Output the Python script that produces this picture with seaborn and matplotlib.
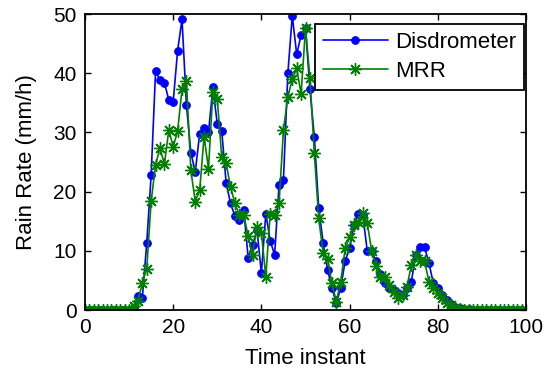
import matplotlib
matplotlib.use("Agg")
import matplotlib.pyplot as plt
import seaborn as sns

time_instant = list(range(0, 101))

disdrometer = [
    0.0, 0.0, 0.0, 0.0, 0.0, 0.0, 0.0, 0.0, 0.0, 0.0,
    0.0, 0.3, 2.4, 2.0, 11.3, 22.8, 40.3, 38.9, 38.4, 35.5,
    35.2, 43.8, 49.1, 34.6, 26.6, 23.3, 29.8, 30.8, 30.0, 37.6,
    31.4, 30.3, 21.5, 18.0, 15.9, 15.2, 16.9, 8.8, 11.0, 13.5,
    6.2, 16.3, 11.7, 9.3, 21.1, 22.0, 40.0, 49.7, 43.2, 46.4,
    47.7, 37.3, 29.3, 17.2, 11.4, 6.8, 3.7, 1.1, 3.8, 8.3,
    10.4, 14.4, 16.2, 16.0, 10.0, 10.0, 8.2, 6.0, 4.5, 3.8,
    3.4, 2.8, 2.5, 3.7, 4.8, 9.3, 10.6, 10.6, 7.9, 4.5,
    3.7, 2.5, 1.7, 1.0, 0.5, 0.3, 0.1, 0.1, 0.0, 0.0,
    0.0, 0.0, 0.0, 0.0, 0.0, 0.0, 0.0, 0.0, 0.0, 0.0,
    0.0,
]

mrr = [
    0.0, 0.0, 0.0, 0.0, 0.0, 0.0, 0.0, 0.0, 0.0, 0.0,
    0.0, 0.6, 1.5, 4.6, 7.0, 18.4, 24.5, 27.4, 24.6, 30.4,
    27.6, 30.2, 37.3, 38.6, 23.6, 18.3, 20.2, 29.3, 23.9, 36.9,
    35.6, 25.9, 24.8, 20.8, 18.0, 16.0, 16.0, 12.5, 9.3, 14.1,
    13.0, 5.6, 16.3, 16.0, 18.0, 30.4, 36.0, 39.0, 40.8, 36.5,
    47.6, 39.2, 26.5, 15.5, 9.6, 8.6, 4.5, 1.4, 4.8, 10.4,
    12.3, 14.4, 14.9, 16.4, 14.7, 10.0, 7.5, 5.6, 5.6, 4.2,
    3.1, 2.0, 2.5, 3.9, 7.6, 9.3, 8.2, 8.2, 4.8, 3.7,
    2.8, 2.0, 1.2, 0.8, 0.4, 0.1, 0.0, 0.0, 0.0, 0.0,
    0.0, 0.0, 0.0, 0.0, 0.0, 0.0, 0.0, 0.0, 0.0, 0.0,
    0.0,
]

x_ticks = [0, 20, 40, 60, 80, 100]
y_ticks = [0, 10, 20, 30, 40, 50]

sns.set_style("ticks")
plt.rcParams["font.family"] = ["Liberation Sans", "DejaVu Sans"]
plt.rcParams["text.color"] = "black"
plt.rcParams["axes.labelcolor"] = "black"

fig = plt.figure(figsize=(5.47, 3.76), dpi=100)
ax = fig.add_axes([85 / 547, 1 - 310 / 376, 441 / 547, 296 / 376])

sns.lineplot(x=time_instant, y=disdrometer, ax=ax, color="#0000ff",
             marker="o", markersize=5.5, markeredgecolor="#0000ff",
             markerfacecolor="#0000ff", linewidth=1.2, estimator=None,
             label="Disdrometer")
sns.lineplot(x=time_instant, y=mrr, ax=ax, color="#008000",
             marker=(8, 2, 0), markersize=9, markeredgecolor="#008000",
             markeredgewidth=1.0, linewidth=1.2, estimator=None,
             label="MRR")

ax.set_xlim(0, 100)
ax.set_ylim(0, 50)
ax.set_xticks(x_ticks)
ax.set_yticks(y_ticks)
ax.tick_params(direction="in", top=True, right=True, length=4,
               width=1, labelsize=15, colors="black", pad=6)
for s in ax.spines.values():
    s.set_linewidth(1.3)
    s.set_color("black")

ax.set_xlabel("Time instant", fontsize=16, labelpad=8)
ax.set_ylabel("Rain Rate (mm/h)", fontsize=16, labelpad=12)

leg = ax.legend(loc="upper right", bbox_to_anchor=(0.995, 0.966),
                fontsize=16, handlelength=2.95, handletextpad=0.3,
                fancybox=False, framealpha=1, edgecolor="black",
                borderaxespad=0, borderpad=0.35, labelspacing=0.36)
leg.get_frame().set_linewidth(1.3)

fig.savefig("out.png", dpi=100)
